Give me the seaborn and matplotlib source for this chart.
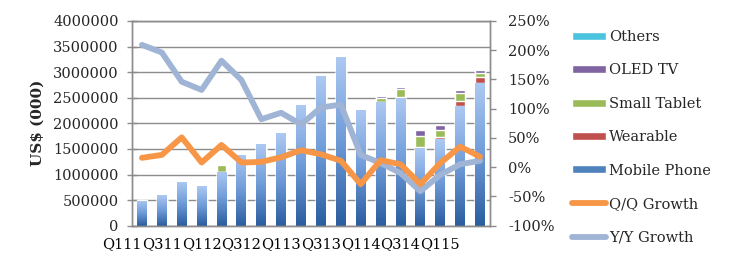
import numpy as np
import pandas as pd
import matplotlib
matplotlib.use("Agg")
import matplotlib.pyplot as plt
import seaborn as sns
from matplotlib.patches import Patch
from matplotlib.lines import Line2D
from matplotlib.colors import LinearSegmentedColormap
from matplotlib.ticker import FuncFormatter, MultipleLocator

quarters = ["Q111", "Q211", "Q311", "Q411", "Q112", "Q212", "Q312", "Q412", "Q113",
            "Q213", "Q313", "Q413", "Q114", "Q214", "Q314", "Q414", "Q115", "Q215"]
mobile_phone = [490000, 590000, 860000, 780000, 1055000, 1390000, 1590000, 1810000, 2350000,
                2920000, 3290000, 2260000, 2420000, 2500000, 1520000, 1690000, 2340000, 2790000]
wearable = [0, 0, 0, 0, 0, 0, 0, 0, 0, 0, 0, 0, 0, 5000, 10000, 35000, 105000, 105000]
small_tablet = [0, 0, 0, 0, 130000, 20000, 20000, 25000, 10000, 5000, 0, 0, 80000, 170000,
                215000, 145000, 140000, 90000]
oled_tv = [0, 0, 0, 0, 0, 0, 0, 0, 15000, 20000, 30000, 25000, 30000, 40000, 130000, 100000,
           65000, 55000]
others = [15000, 0, 0, 0, 0, 0, 0, 0, 0, 0, 0, 0, 0, 0, 0, 0, 0, 0]
qq_growth = [16, 21, 51, 8, 38, 8, 9, 17, 29, 22, 11, -29, 12, 5, -29, 7, 35, 18]
yy_growth = [209, 196, 146, 132, 182, 149, 82, 93, 73, 102, 107, 21, 7, -10, -41, -13, 5, 11]
tick_labels = quarters[::2]

series = [("Mobile Phone", mobile_phone, "#4F81BD"),
          ("Wearable", wearable, "#C0504D"),
          ("Small Tablet", small_tablet, "#9BBB59"),
          ("OLED TV", oled_tv, "#8064A2"),
          ("Others", others, "#4BC4E0")]
qq_color = "#F79646"
yy_color = "#A0B4D6"

sns.set_theme(style="white")
plt.rcParams["font.family"] = ["DejaVu Serif"]

fig = plt.figure(figsize=(7.35, 2.70), dpi=100)
ax = fig.add_axes([132 / 735, 1 - 225.7 / 270, (490 - 132) / 735, (225.7 - 20.9) / 270])

df = pd.DataFrame({"quarter": quarters})
cum = np.zeros(len(quarters))
cums = []
for name, vals, col in series:
    cum = cum + np.array(vals, dtype=float)
    cums.append((name, cum.copy(), col))

# draw from the top of the stack down so lower segments overlay
for name, cvals, col in reversed(cums):
    d = df.assign(v=cvals)
    sns.barplot(data=d, x="quarter", y="v", color=col, saturation=1, width=0.5,
                ax=ax, order=quarters)

# gradient on mobile phone bars (last drawn)
mobile_bars = ax.patches[-len(quarters):]
cmap = LinearSegmentedColormap.from_list("mp", ["#2A5C9E", "#6E9BD8", "#ADC9F2"])
grad = np.linspace(0, 1, 256).reshape(-1, 1)
for p in mobile_bars:
    x0, y0 = p.get_x(), p.get_y()
    w, h = p.get_width(), p.get_height()
    im = ax.imshow(grad, extent=[x0, x0 + w, y0, y0 + h], origin="lower", cmap=cmap,
                   aspect="auto", zorder=p.get_zorder() + 0.1)
    im.set_clip_path(p)

ax.set_xlim(-0.5, len(quarters) - 0.5)
ax.set_ylim(0, 4000000)
ax.yaxis.set_major_locator(MultipleLocator(500000))
ax.yaxis.set_major_formatter(FuncFormatter(lambda v, p: f"{int(v)}"))
ax.grid(axis="y", color="#8C8C8C", linewidth=1.0)
ax.set_axisbelow(True)
ax.set_xlabel("")
ax.set_ylabel("US$ (000)", fontsize=11, fontweight="bold", labelpad=6)
ax.set_xticks(np.arange(0, len(quarters), 2))
ax.set_xticklabels(tick_labels, ha="right")
ax.set_xticks(np.arange(-0.5, len(quarters), 1), minor=True)
ax.tick_params(axis="x", which="major", length=0, pad=8, labelsize=10.5, colors="black")
ax.tick_params(axis="x", which="minor", length=4, width=1, color="#8C8C8C", direction="out")
ax.tick_params(axis="y", length=7, width=1, color="#8C8C8C", direction="inout", labelsize=10.5,
               pad=6)
for s in ax.spines.values():
    s.set_color("#8C8C8C")
    s.set_linewidth(1.0)
    s.set_visible(True)

ax2 = ax.twinx()
xs = np.arange(len(quarters))
sns.lineplot(x=xs, y=yy_growth, ax=ax2, color=yy_color, linewidth=4.2, solid_capstyle="round")
sns.lineplot(x=xs, y=qq_growth, ax=ax2, color=qq_color, linewidth=4.2, solid_capstyle="round")
ax2.set_ylim(-100, 250)
ax2.set_xlim(-0.5, len(quarters) - 0.5)
ax2.yaxis.set_major_locator(MultipleLocator(50))
ax2.yaxis.set_major_formatter(FuncFormatter(lambda v, p: f"{int(v)}%"))
ax2.tick_params(axis="y", length=4, width=1, color="#8C8C8C", direction="out", labelsize=10.5,
                pad=9)
ax2.grid(False)
for s in ax2.spines.values():
    s.set_color("#8C8C8C")
    s.set_linewidth(1.0)

handles = [Patch(facecolor=col, label=name) for name, vals, col in reversed(series)]
handles += [Line2D([], [], color=qq_color, linewidth=4.2, solid_capstyle="round", label="Q/Q Growth"),
            Line2D([], [], color=yy_color, linewidth=4.2, solid_capstyle="round", label="Y/Y Growth")]
fig.legend(handles=handles, loc="upper left", bbox_to_anchor=(572 / 735, 1 - 30 / 270),
           frameon=False, fontsize=10.5, handlelength=2.3, handleheight=0.45,
           handletextpad=0.25, labelspacing=1.33, borderaxespad=0, borderpad=0)

fig.savefig("out.png", dpi=100)
